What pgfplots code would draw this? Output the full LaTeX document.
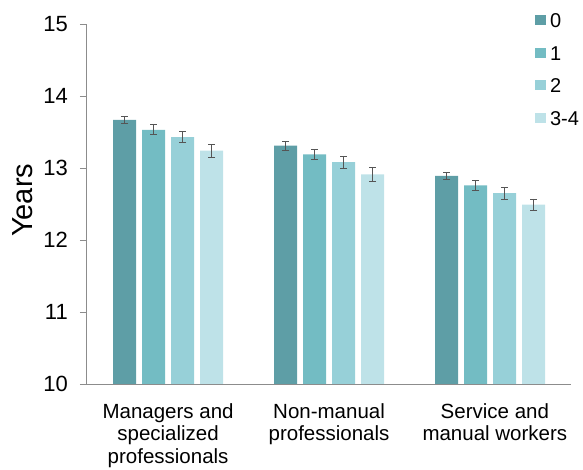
\documentclass[border=0pt]{standalone}
\usepackage{fontspec}
\setmainfont{Liberation Sans}
\usepackage{pgfplots}
\pgfplotsset{compat=1.18}
\definecolor{cA}{RGB}{94,158,166}
\definecolor{cB}{RGB}{115,188,195}
\definecolor{cC}{RGB}{151,208,216}
\definecolor{cD}{RGB}{190,226,232}
\definecolor{axgray}{RGB}{140,140,140}
\definecolor{errgray}{RGB}{85,85,85}
\begin{document}
\begin{tikzpicture}
\useasboundingbox (-86pt,-86pt) rectangle (497pt,384pt);
\begin{axis}[
  at={(0pt,0pt)}, anchor=south west,
  scale only axis,
  width=485pt, height=360pt,
  xmin=-0.51, xmax=2.503,
  ymin=10, ymax=15,
  ytick={10,11,12,13,14,15},
  xtick={0,1,2.03},
  xticklabels={{Managers and\\specialized\\professionals},{Non-manual\\professionals},{Service and\\manual workers}},
  xticklabel style={align=center, font=\fontsize{20.5}{22.5}\selectfont, inner sep=0pt, yshift=-13pt},
  yticklabel style={font=\fontsize{22}{24}\selectfont, inner sep=0pt, xshift=-12pt},
  /pgf/number format/assume math mode=true,
  axis x line*=bottom,
  axis y line*=left,
  axis line style={axgray, line width=0.8pt},
  x axis line style={-}, y axis line style={-},
  major tick length=6pt,
  xtick style={draw=none},
  ytick style={axgray, line width=0.8pt},
  tick align=outside,
  ylabel={Years},
  ylabel style={font=\fontsize{29}{31}\selectfont, at={(axis description cs:-0.13,0.51)}, anchor=center},
  ybar=6pt, bar width=23pt,
  error bars/y dir=both, error bars/y explicit,
  error bars/error bar style={errgray, line width=0.8pt},
  error bars/error mark options={rotate=90, mark size=3.5pt, errgray, line width=0.8pt},
  legend style={draw=none, fill=none, inner sep=0pt, outer sep=0pt,
    at={(rel axis cs:0.926,1.03)}, anchor=north west,
    font=\fontsize{20}{22}\selectfont,
    nodes={inner sep=0pt, text height=14.3pt, text depth=0pt},
    row sep=18.2pt, column sep=0pt},
  legend cell align=left,
  legend image code/.code={\fill[#1] (0pt,-5pt) rectangle (10.5pt,5pt); \path (15pt,0pt);},
]
\addplot[fill=cA, draw=none] coordinates {(0,13.67) +- (0,0.05) (1,13.31) +- (0,0.06) (2,12.89) +- (0,0.05)};
\addplot[fill=cB, draw=none] coordinates {(0,13.53) +- (0,0.07) (1,13.19) +- (0,0.065) (2,12.76) +- (0,0.065)};
\addplot[fill=cC, draw=none] coordinates {(0,13.43) +- (0,0.08) (1,13.08) +- (0,0.08) (2,12.65) +- (0,0.08)};
\addplot[fill=cD, draw=none] coordinates {(0,13.24) +- (0,0.09) (1,12.91) +- (0,0.10) (2,12.49) +- (0,0.08)};
\legend{0,1,2,3-4}
\end{axis}
\end{tikzpicture}
\end{document}
